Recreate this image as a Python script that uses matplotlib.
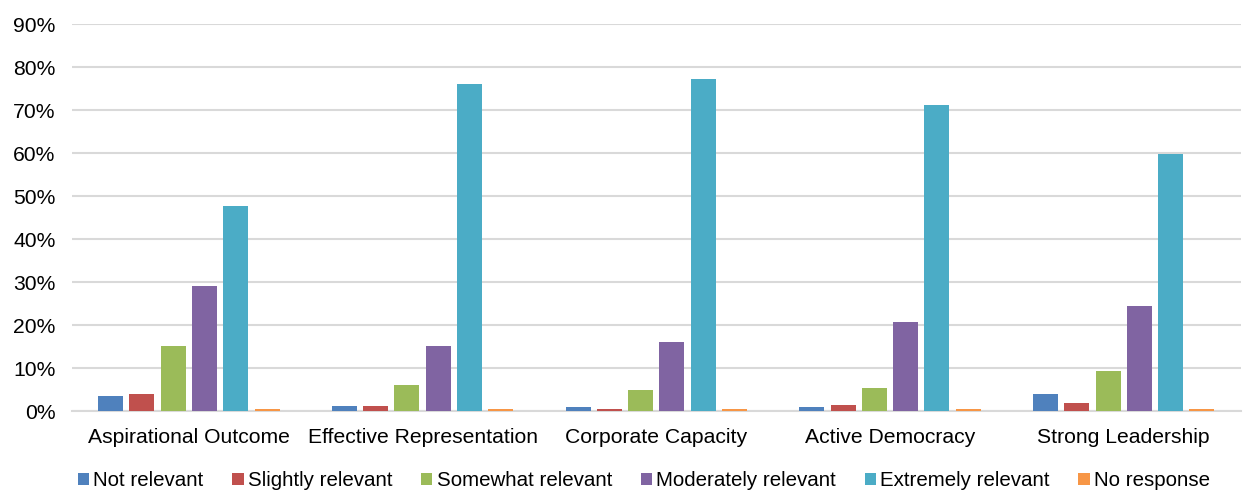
import numpy as np
import matplotlib.pyplot as plt
from matplotlib.ticker import PercentFormatter

plt.rcParams['font.family'] = ['Liberation Sans', 'DejaVu Sans']

categories = ["Aspirational Outcome", "Effective Representation",
              "Corporate Capacity", "Active Democracy", "Strong Leadership"]
responses = ["Not relevant", "Slightly relevant", "Somewhat relevant",
             "Moderately relevant", "Extremely relevant", "No response"]

# share of answers per category, in percent
not_relevant = [3.5, 1.1, 0.9, 0.9, 4.0]
slightly_relevant = [4.0, 1.1, 0.5, 1.4, 1.9]
somewhat_relevant = [15.2, 6.0, 4.8, 5.3, 9.4]
moderately_relevant = [29.0, 15.2, 16.1, 20.8, 24.4]
extremely_relevant = [47.8, 76.1, 77.3, 71.3, 59.9]
no_response = [0.4, 0.4, 0.4, 0.4, 0.4]

series = [not_relevant, slightly_relevant, somewhat_relevant,
          moderately_relevant, extremely_relevant, no_response]
colors = ["#4f81bd", "#c0504d", "#9bbb59", "#8064a2", "#4bacc6", "#f79646"]

fig = plt.figure(figsize=(12.43, 4.94), dpi=100)
ax = fig.add_axes([0.058, 0.168, 0.94, 0.783])

x = np.arange(len(categories))
step = 0.134
width = 0.107
for i, (vals, col, lab) in enumerate(zip(series, colors, responses)):
    offset = (i - 2.5) * step
    ax.bar(x + offset, vals, width, color=col, label=lab,
           linewidth=0, zorder=3)

ax.set_xlim(-0.5, len(categories) - 0.5)
ax.set_ylim(0, 90)
ax.set_yticks(np.arange(0, 91, 10))
ax.yaxis.set_major_formatter(PercentFormatter(decimals=0))
ax.set_xticks(x)
ax.set_xticklabels(categories)
ax.tick_params(axis="both", length=0, labelsize=15.2, colors="#000000")
ax.tick_params(axis="x", pad=12)
ax.tick_params(axis="y", pad=12)
ax.grid(axis="y", color="#d9d9d9", linewidth=1.5, zorder=0)
for side in ["top", "right", "left"]:
    ax.spines[side].set_visible(False)
ax.spines["bottom"].set_color("#d9d9d9")
ax.spines["bottom"].set_linewidth(1.5)

fig.legend(loc="center", bbox_to_anchor=(0.518, 0.027), ncol=6,
           frameon=False, fontsize=14.8, handlelength=0.55, handleheight=0.55,
           handletextpad=0.2, columnspacing=1.4)

fig.savefig("out.png", dpi=100)
